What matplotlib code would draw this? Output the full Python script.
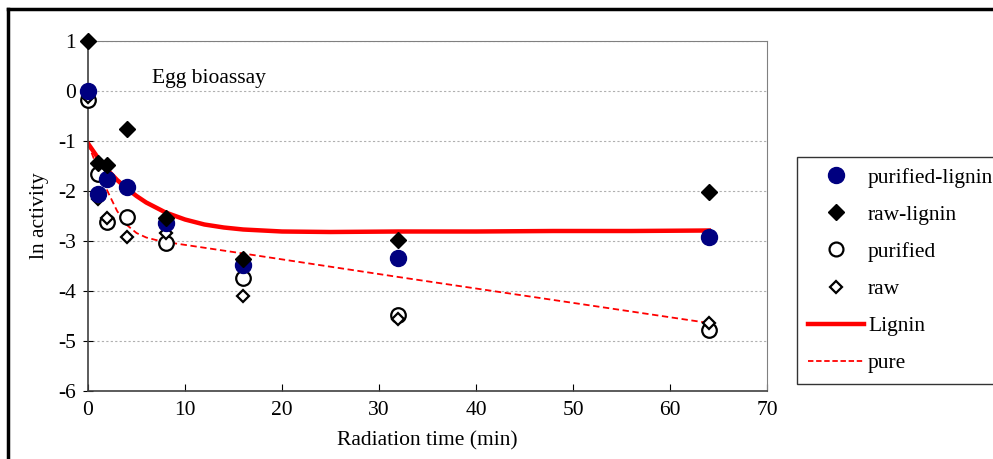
import matplotlib
matplotlib.use("Agg")
import matplotlib.pyplot as plt
from matplotlib.lines import Line2D

plt.rcParams['font.family'] = ['Liberation Serif', 'DejaVu Serif']
plt.rcParams['axes.unicode_minus'] = False

# radiation times (min)
times = [0, 1, 2, 4, 8, 16, 32, 64]

# ln activity per sample type
purified_lignin = [0.0, -2.05, -1.76, -1.91, -2.63, -3.48, -3.34, -2.92]
raw_lignin = [1.0, -1.44, -1.48, -0.76, -2.54, -3.36, -2.98, -2.02]
purified = [-0.18, -1.66, -2.62, -2.52, -3.04, -3.74, -4.48, -4.78]
raw = [-0.12, -2.15, -2.54, -2.92, -2.84, -4.10, -4.55, -4.64]

# fitted curves
lignin_t = [0, 1, 2, 3, 4, 5, 6, 8, 10, 12, 14, 16, 20, 25, 32, 40, 48, 56, 64]
lignin_y = [-1.05, -1.33, -1.58, -1.78, -1.95, -2.10, -2.23, -2.43, -2.57, -2.67,
            -2.73, -2.77, -2.81, -2.82, -2.81, -2.81, -2.80, -2.80, -2.79]
pure_t = [0, 0.5, 1, 1.5, 2, 3, 4, 5, 6, 7, 8, 16, 32, 48, 64]
pure_y = [-1.05, -1.30, -1.55, -1.78, -2.00, -2.40, -2.68, -2.84, -2.93, -2.98,
          -3.02, -3.25, -3.72, -4.18, -4.64]

FS = 15.5

fig = plt.figure(figsize=(9.93, 4.59), dpi=100)
ax = fig.add_axes([88/993, 1 - 391/459, (767 - 88)/993, (391 - 41)/459])

ax.plot(lignin_t, lignin_y, color='#ff0000', lw=3.2, zorder=2)
ax.plot(pure_t, pure_y, color='#ff0000', lw=1.3, ls=(0, (3.5, 2)), zorder=2)

ax.plot(times, purified, ls='none', marker='o', ms=10.5, mfc='white', mec='black',
        mew=1.6, zorder=3, clip_on=False)
ax.plot(times, raw, ls='none', marker='D', ms=6.5, mfc='white', mec='black',
        mew=1.6, zorder=4, clip_on=False)
ax.plot(times, purified_lignin, ls='none', marker='o', ms=11.5, color='#000080',
        zorder=5, clip_on=False)
ax.plot(times, raw_lignin, ls='none', marker='D', ms=8, color='black',
        zorder=6, clip_on=False)

ax.set_xlim(0, 70)
ax.set_ylim(-6, 1)
ax.set_xticks(range(0, 71, 10))
ax.set_yticks(range(-6, 2))
ax.yaxis.grid(True, color='#b0b0b0', ls=(0, (2, 2)), lw=0.8)
ax.set_axisbelow(True)
for s in ['top', 'right']:
    ax.spines[s].set_color('#808080')
for s in ['left', 'bottom']:
    ax.spines[s].set_color('#404040')
    ax.spines[s].set_linewidth(1.2)
ax.tick_params(axis='x', direction='in', length=5, labelsize=FS, pad=7)
ax.tick_params(axis='y', direction='inout', length=7, labelsize=FS, pad=5)

ax.set_xlabel('Radiation time (min)', fontsize=FS, labelpad=8)
ax.set_ylabel('ln activity', fontsize=FS, labelpad=7)
ax.text(6.6, 0.26, 'Egg bioassay', fontsize=FS, va='center', ha='left')

handles = [
    Line2D([], [], ls='none', marker='o', ms=11.5, color='#000080'),
    Line2D([], [], ls='none', marker='D', ms=8, color='black'),
    Line2D([], [], ls='none', marker='o', ms=10, mfc='white', mec='black', mew=1.6),
    Line2D([], [], ls='none', marker='D', ms=6, mfc='white', mec='black', mew=1.6),
    Line2D([], [], color='#ff0000', lw=3.2),
    Line2D([], [], color='#ff0000', lw=1.3, ls=(0, (3, 1.5))),
]
labels = ['purified-lignin', 'raw-lignin', 'purified', 'raw', 'Lignin', 'pure']
leg = fig.legend(handles, labels, loc='upper left', bbox_to_anchor=(797/993, 1 - 157/459),
                 fontsize=FS, frameon=True, fancybox=False, edgecolor='black',
                 handlelength=2.6, handletextpad=0.2, labelspacing=0.79,
                 borderpad=0.5, borderaxespad=0)
leg.get_frame().set_linewidth(1.0)

# outer chart frame (left and top edges visible)
fig.add_artist(Line2D([8/993, 8/993], [0, 1 - 9/459], transform=fig.transFigure,
                      color='black', lw=2.5))
fig.add_artist(Line2D([8/993, 1], [1 - 9/459, 1 - 9/459], transform=fig.transFigure,
                      color='black', lw=2.5))

fig.savefig('out.png', dpi=100)
